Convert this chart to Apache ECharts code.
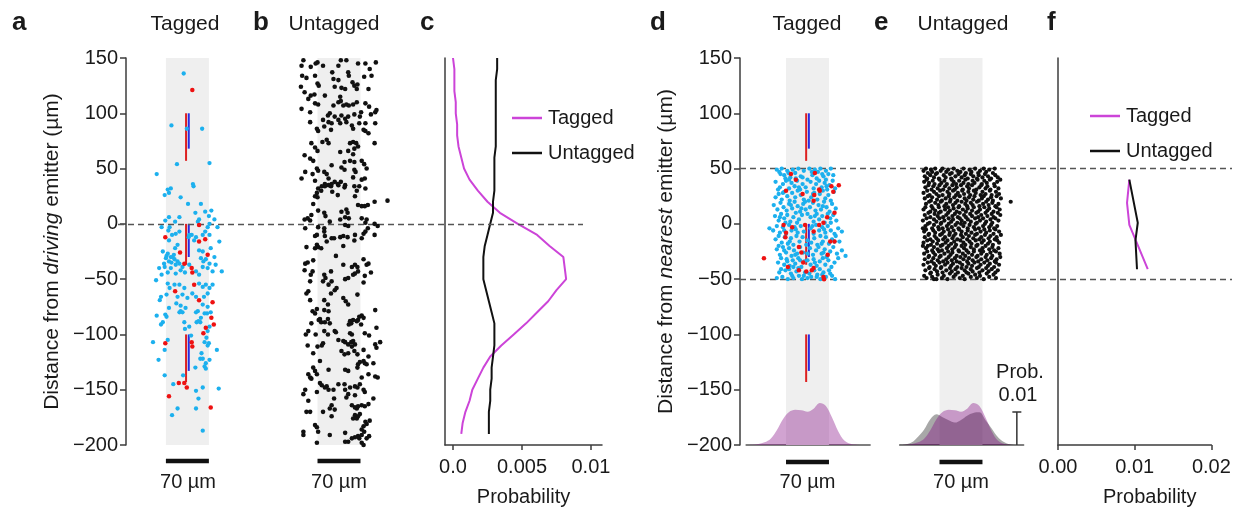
<!DOCTYPE html>
<html>
<head>
<meta charset="utf-8">
<script src="https://cdn.jsdelivr.net/npm/echarts@6/dist/echarts.min.js"></script>
<style>
  html, body { margin: 0; padding: 0; background: #fff; }
  #chart { width: 1240px; height: 515px; }
</style>
</head>
<body>
<div id="chart"></div>
<script>
// ---------- values ----------
const distTicks = [-200, -150, -100, -50, 0, 50, 100, 150];   // µm
const bandUm = 70;          // width of the shaded shank band (µm)
const scaleBarUm = 70;      // length of the horizontal scale bars (µm)
const probScale = 0.01;     // height of the probability scale bar in e
const referenceLines = [0];        // dashed line in a–c
const windowLines = [50, -50];     // dashed lines in d–f

// emitter segments (start, end distance in µm), red and blue
const redSegments = [[100, 57], [0, -37], [-100, -143]];
const blueSegments = [[100, 68], [0, -30], [-100, -133]];

// c: probability profiles along the shank
const profileDistances = [150,140,130,120,110,100,90,80,70,60,50,40,30,20,10,0,-10,-20,-30,-40,-50,-60,-70,-80,-90,-100,-110,-120,-130,-140,-150,-160,-170,-180,-190];
const taggedProfile = [0.0000,0.0001,0.0001,0.0001,0.0002,0.0002,0.0003,0.0003,0.0004,0.0006,0.0008,0.0012,0.0018,0.0025,0.0034,0.0047,0.0061,0.0070,0.0080,0.0081,0.0082,0.0075,0.0069,0.0061,0.0053,0.0044,0.0035,0.0027,0.0022,0.0018,0.0014,0.0012,0.0009,0.0007,0.0006];
const untaggedProfile = [0.0032,0.0032,0.0031,0.0031,0.0031,0.0031,0.0031,0.0031,0.0031,0.0030,0.0030,0.0030,0.0030,0.0029,0.0029,0.0027,0.0025,0.0023,0.0022,0.0022,0.0022,0.0024,0.0026,0.0028,0.0030,0.0030,0.0030,0.0029,0.0028,0.0028,0.0027,0.0027,0.0026,0.0026,0.0026];
const cTickValues = [0, 0.005, 0.01];
const cTickLabels = ['0.0', '0.005', '0.01'];

// f: probability profiles within ±50 µm of the nearest emitter
const fTaggedDist = [40, 19, -1, -41];
const fTaggedProb = [0.0093, 0.0090, 0.0093, 0.0117];
const fUntaggedDist = [40, 1, -15, -41];
const fUntaggedProb = [0.0093, 0.0104, 0.0101, 0.0103];

// d/e: lateral density across the shank
const densityX = [-100,-90,-80,-70,-60,-50,-40,-30,-20,-10,0,10,20,30,40,50,60,70,80,90,100];
const taggedDensity = [0,0.0001,0.0003,0.0008,0.0019,0.0045,0.0078,0.0100,0.0107,0.0105,0.0101,0.0110,0.0127,0.0118,0.0083,0.0042,0.0014,0.0004,0.0001,0,0];
const untaggedDensity = [0,0.0002,0.0008,0.0025,0.0047,0.0078,0.0093,0.0084,0.0075,0.0068,0.0076,0.0089,0.0097,0.0099,0.0075,0.0050,0.0024,0.0009,0.0002,0,0];

// a: tagged cells (lateral µm, distance from driving emitter µm)
const aTaggedBlue = [[-6,136],[-26,89],[-1,86],[24,86],[-17,54],[36,55],[-50,45],[9,36],[10,34],
[-32,31],[-30,28],[-27,32],[-37,26],[-11,24],[1,18],[22,18],[13,10],[29,11],[39,12],[35,7],[-13,6],[-30,6],[-20,2],[-36,3],[19,4],[17,2],[44,4],[-42,-3],[-29,-3],[-31,-6],[36,0],[33,-3],[49,-3],[3,-10],[7,-10],[2,-12],[-13,-7],[-19,-9],[-25,-10],[-30,-15],[25,-10],[36,-10],[29,-7],[52,-16],[14,-12],[11,-15],[-20,-22],[-16,-19],[-40,-25],[19,-24],[25,-25],[38,-22],[-32,-27],[-27,-30],[-21,-32],[-16,-34],[-35,-31],[-30,-34],[-19,-37],[-13,-36],[-8,-39],[3,-37],[22,-31],[26,-34],[30,-32],[36,-36],[25,-39],[33,-40],[44,-30],[46,-37],[41,-43],[-46,-40],[-42,-46],[-38,-36],[-51,-51],[-32,-44],[-27,-40],[-19,-45],[-11,-42],[-4,-44],[14,-43],[19,-46],[-21,-55],[-13,-55],[-5,-58],[-32,-54],[-29,-58],[19,-54],[25,-57],[30,-55],[36,-58],[41,-55],[-43,-66],[-34,-64],[-16,-66],[-8,-64],[0,-67],[8,-63],[14,-66],[27,-66],[33,-63],[25,-73],[33,-75],[-18,-72],[-11,-74],[-30,-76],[-3,-76],[56,-43],[-45,-69],[-24,-30],[-26,-35],[-22,-28],[-34,-29],[-37,-39],
[-50,-83],[-36,-82],[-34,-84],[-43,-91],[-40,-89],[-13,-80],[-11,-79],[-8,-80],[-5,-89],[3,-93],[-4,-95],[14,-80],[17,-79],[22,-85],[18,-88],[15,-89],[21,-89],[28,-81],[32,-81],[38,-80],[33,-97],[36,-93],[31,-103],[28,-107],[35,-108],[33,-110],[48,-114],[6,-101],[-56,-107],[-32,-105],[-37,-114],[-47,-123],[23,-117],[25,-122],[21,-122],[36,-123],[30,-126],[28,-129],[30,-131],[13,-130],[-37,-137],[-7,-137],[-23,-145],[14,-151],[25,-148],[51,-149],[18,-158],[-16,-167],[14,-167],[-25,-173],[25,-187]];
const aTaggedRed = [[8,121],[19,-1],[-36,-12],[19,-16],[29,-14],[33,-28],[-12,-26],[-5,-36],[7,-40],[8,-44],[11,-55],[-20,-61],[19,-69],[41,-71],[39,-85],[43,-91],[30,-94],[26,-99],[7,-107],[8,-111],[-36,-108],[-14,-144],[-5,-144],[-1,-148],[-30,-156],[38,-166]];

// b: untagged cells
const bUntagged = [[-58,148],[-61,143],[-46,142],[-38,145],[-35,146],[-26,143],[-1,143],[3,148],[12,148],[31,145],[43,145],[50,140],[60,146],
[-60,134],[-53,132],[-39,134],[-11,137],[-9,131],[15,137],[16,134],[22,128],[41,133],[53,134],[-62,124],[-56,119],[-35,127],[-33,125],[-1,130],[-7,124],[4,123],[10,122],[25,125],[30,126],[29,122],[48,122],
[-50,113],[-46,116],[-40,117],[-23,116],[2,115],[3,111],[-39,109],[-34,108],[-9,107],[-1,110],[7,107],[12,108],[16,107],[23,108],[29,110],[43,109],[-61,104],[49,106],
[-47,101],[-18,98],[-15,100],[-7,97],[4,98],[15,97],[25,99],[36,101],[52,99],[59,101],[61,103],[-26,94],[-17,92],[-12,91],[-1,94],[2,91],[10,95],[12,92],[21,89],[34,97],[33,91],[43,91],[59,91],[-47,92],[-36,86],[-34,84],[-24,88],[-13,85],[23,86],[40,85],[43,84],[48,82],
[-45,73],[-39,69],[-35,66],[-27,74],[-20,76],[-17,73],[18,73],[23,74],[28,73],[25,68],[31,70],[15,66],[2,65],[23,63],[58,73],[-56,62],[-47,59],[-42,57],
[9,56],[18,57],[25,56],[37,57],[41,54],[-12,53],[-36,50],[-34,48],[-24,47],[-20,45],[4,51],[9,49],[25,49],[27,47],[45,50],[-55,47],[-61,41],[-43,45],
[-39,39],[-17,41],[-12,36],[-7,38],[-2,36],[3,38],[10,35],[23,42],[37,40],[42,41],[-23,36],[-1,35],
[-34,32],[-28,34],[-23,34],[-17,35],[-13,34],[-11,29],[-29,30],[-36,28],[-39,25],[-35,24],[-2,26],[9,33],[25,34],[29,30],[33,34],[43,32],[26,25],[-42,18],[58,20],[79,21],[31,17],[37,16],[42,16],[47,17],
[-34,12],[-24,10],[-22,7],[4,11],[12,13],[14,10],[10,6],[16,5],[-45,8],[-56,4],[-51,5],[-47,3],[-15,2],[2,4],[10,-1],[15,-2],[37,5],[43,1],[45,4],[58,0],[63,-2],[-55,-4],
[-34,-3],[-24,-4],[-24,-7],[-36,-10],[-39,-11],[-23,-11],[-12,-13],[-8,-13],[2,-12],[7,-11],[14,-12],[26,-10],[25,-15],[37,-13],[40,-9],[43,-7],[47,-4],[58,-10],[-20,-16],[-36,-19],[-39,-22],[-34,-21],[-29,-22],[-53,-21],[7,-20],
[-5,-29],[40,-32],[-55,-36],[-51,-35],[-42,-33],[-56,-42],[-46,-46],[-43,-43],[7,-37],[21,-39],[26,-37],[30,-39],[45,-37],[48,-36],[26,-45],[31,-43],[23,-46],[15,-49],[10,-50],[42,-47],[52,-44],[-13,-43],[-24,-46],[-22,-49],[-47,-52],[-17,-55],[-26,-52],[-12,-52],[40,-53],
[-50,-61],[-53,-63],[-13,-63],[-7,-60],[-4,-58],[30,-64],[-47,-69],[-24,-69],[-18,-73],[7,-67],[11,-70],[15,-73],[-36,-77],[-43,-79],[-39,-81],[-24,-78],[-17,-79],[59,-78],[37,-83],[40,-85],[33,-84],[-31,-86],
[-45,-90],[-33,-87],[-29,-89],[-23,-89],[-15,-90],[-18,-86],[16,-91],[20,-90],[18,-88],[23,-87],[29,-88],[31,-87],[36,-91],[-7,-97],[-5,-98],[-24,-97],[-18,-100],[-50,-97],[-54,-100],[-38,-100],[42,-99],[49,-101],[61,-94],[18,-99],[21,-100],
[-51,-110],[-42,-117],[-35,-111],[-26,-108],[-28,-110],[-1,-105],[7,-106],[10,-107],[15,-109],[20,-107],[23,-106],[26,-109],[21,-111],[4,-115],[9,-118],[15,-117],[25,-115],[30,-118],[59,-109],[61,-112],[67,-107],[40,-114],[48,-120],
[-31,-124],[31,-127],[34,-125],[40,-124],[42,-126],[45,-127],[56,-126],[-17,-132],[10,-132],[15,-133],[30,-130],[-42,-130],[-39,-133],[-36,-136],[-50,-136],[-47,-139],[-45,-140],[48,-136],[59,-138],[63,-139],[37,-139],
[-31,-144],[-28,-146],[-23,-148],[-20,-147],[-17,-150],[-1,-145],[9,-145],[18,-148],[26,-147],[30,-148],[34,-145],[40,-150],[42,-152],[-9,-150],[-58,-154],[-55,-150],[-36,-152],[10,-150],[12,-157],[15,-154],[26,-155],[-8,-158],[56,-158],[-50,-160],
[-53,-170],[-47,-170],[-15,-167],[-12,-164],[-7,-168],[21,-164],[29,-167],[26,-166],[37,-164],[31,-165],[42,-165],[48,-163],[-26,-170],[-12,-174],[26,-173],[23,-176],[29,-176],[34,-172],[31,-174],[43,-179],[50,-178],[45,-181],
[-39,-182],[-36,-184],[-34,-188],[-15,-191],[10,-189],[40,-183],[37,-186],[41,-188],[-58,-188],[-58,-191],[26,-193],[31,-192],[37,-191],[45,-194],[49,-192],[15,-197],[10,-197],[-36,-198],[37,-198],[40,-200],[33,-194],[21,-194]];

// d: tagged cells (distance from nearest emitter)
const dTaggedBlue = [[-50,49],[-46,47],[-42,50],[-38,44],[-33,48],[-28,42],[-24,49],[-20,46],[-15,50],[-11,43],[-6,48],[3,50],[8,44],[12,49],[17,47],[21,50],[26,43],[30,48],[34,45],[38,50],[-36,41],[15,41],[42,44],[-19,41],
[-52,38],[-45,33],[-40,36],[-35,39],[-30,32],[-26,37],[-21,34],[-17,39],[-12,31],[-8,36],[-3,33],[5,38],[10,32],[14,36],[19,39],[23,33],[28,37],[32,31],[36,35],[41,39],[45,32],[-48,31],[0,40],
[-47,27],[-42,22],[-38,29],[-33,25],[-29,21],[-25,28],[-20,24],[-16,30],[-11,26],[-6,22],[-1,29],[6,24],[11,28],[16,22],[20,27],[25,30],[29,23],[34,26],[38,21],[43,29],[-52,24],[2,21],
[-55,17],[-49,13],[-44,19],[-39,15],[-34,12],[-30,18],[-25,14],[-21,20],[-16,16],[-12,11],[-7,18],[4,15],[9,19],[13,12],[18,17],[22,13],[27,20],[31,15],[36,11],[40,18],[46,14],[-3,13],
[-53,7],[-47,3],[-43,9],[-38,5],[-33,8],[-28,2],[-23,6],[-19,10],[-14,4],[-9,8],[5,6],[10,2],[15,9],[19,4],[24,7],[28,1],[33,9],[37,5],[42,8],[47,3],[0,9],[-36,1],
[-62,-4],[-56,-6],[-50,-2],[-45,-8],[-40,-3],[-35,-9],[-30,-1],[-26,-6],[-21,-3],[-16,-8],[-11,-2],[-6,-7],[5,-4],[10,-9],[14,-1],[19,-6],[24,-3],[29,-8],[33,-2],[38,-6],[44,-9],[50,-4],[56,-7],
[-52,-14],[-47,-11],[-42,-17],[-37,-12],[-32,-18],[-27,-13],[-23,-19],[-18,-11],[-13,-16],[-8,-12],[6,-17],[11,-13],[16,-19],[21,-11],[25,-16],[30,-12],[35,-18],[40,-14],[46,-11],[52,-16],[0,-15],
[-50,-23],[-45,-28],[-40,-21],[-35,-26],[-30,-22],[-26,-29],[-22,-24],[-17,-27],[-12,-21],[-7,-26],[4,-22],[9,-28],[14,-24],[18,-21],[23,-27],[28,-23],[32,-29],[37,-25],[42,-21],[48,-27],[62,-29],[56,-24],
[-48,-35],[-43,-31],[-38,-37],[-34,-32],[-29,-38],[-24,-33],[-20,-36],[-15,-31],[-10,-39],[-5,-34],[5,-37],[10,-32],[15,-38],[20,-34],[25,-31],[29,-37],[34,-33],[39,-39],[44,-35],[50,-31],
[-46,-44],[-41,-48],[-36,-42],[-32,-50],[-27,-45],[-23,-49],[-18,-43],[-14,-47],[-9,-50],[-4,-44],[6,-48],[11,-42],[16,-46],[21,-50],[26,-44],[30,-48],[35,-42],[40,-47],[45,-50],[-30,-41],[0,-49],[20,-41],[-50,-49],
[-44,45],[-31,46],[-8,42],[7,47],[24,45],[-40,28],[-14,33],[9,27],[31,34],[-27,17],[-4,20],[25,16],[-45,6],[-17,1],[12,7],[38,1],[-38,-6],[-19,-5],[8,-2],[27,-5],[-29,-16],[-2,-19],[23,-18],[44,-16],[-38,-24],[-20,-28],[0,-27],[26,-26],[-33,-34],[-12,-33],[12,-35],[31,-30],[-43,-41],[-25,-47],[3,-45],[24,-46],[-15,-40],[15,-48],[37,-45],[-6,-47],[-23,-39],[-47,-20],[-10,14],[-30,40],[30,40],[0,-33]];
const dTaggedRed = [[-27,45],[-19,40],[-35,30],[-8,27],[12,46],[11,26],[10,21],[19,31],[20,30],[39,34],[42,29],[51,35],[44,10],[32,6],[-39,-1],[-25,-3],[-35,-8],[-36,-12],[-4,-1],[10,-7],[19,-1],[26,1],[37,-16],[44,-16],[-14,-21],[-10,-26],[33,-28],[-32,-39],[-7,-35],[-2,-43],[-14,-42],[7,-42],[10,-40],[26,-48],[27,-50],[-71,-31]];

// e: untagged cells (distance from nearest emitter)
const eUntagged = [[-61,48],[-57,50],[-54,46],[-49,49],[-47,47],[-42,50],[-39,46],[-33,48],[-30,50],[-24,47],[-21,49],[-15,46],[-12,50],[-6,48],[-1,47],[4,50],[8,46],[14,49],[17,47],[23,50],[28,46],[31,48],[37,50],[41,47],[46,49],[52,46],[55,50],
[-59,43],[-55,41],[-50,44],[-44,42],[-41,45],[-36,41],[-28,44],[-25,42],[-18,45],[-16,41],[-9,43],[-4,45],[1,42],[6,44],[11,41],[16,45],[20,43],[26,41],[29,44],[35,42],[39,45],[44,43],[49,41],[56,44],[60,42],
[-60,38],[-56,40],[-52,37],[-46,39],[-43,36],[-35,40],[-32,37],[-27,39],[-23,36],[-15,40],[-12,38],[-8,36],[-3,39],[4,37],[7,40],[12,36],[19,39],[22,37],[27,40],[34,36],[38,39],[42,37],[47,40],[54,36],[59,38],[64,40],
[-58,33],[-53,35],[-48,31],[-45,34],[-38,32],[-35,35],[-29,31],[-26,34],[-19,32],[-14,35],[-10,31],[-7,33],[0,35],[3,31],[10,34],[13,32],[18,35],[25,31],[30,33],[33,35],[40,32],[43,34],[48,31],[55,34],[61,32],
[-61,28],[-55,30],[-51,26],[-44,29],[-40,27],[-34,30],[-30,26],[-22,29],[-19,27],[-13,30],[-8,26],[-5,28],[2,30],[5,27],[12,29],[15,26],[21,30],[24,28],[32,26],[35,29],[40,27],[47,30],[50,26],[57,29],[62,27],
[-59,23],[-54,25],[-49,21],[-47,24],[-39,22],[-36,25],[-31,21],[-25,23],[-20,25],[-17,22],[-11,24],[-6,21],[-2,25],[6,23],[9,21],[13,24],[20,22],[22,25],[29,21],[34,23],[37,25],[44,22],[49,24],[52,21],[58,25],[65,23],
[-57,18],[-52,20],[-48,16],[-42,19],[-37,17],[-33,20],[-27,16],[-24,18],[-18,20],[-13,17],[-9,19],[-3,16],[1,20],[7,18],[10,16],[16,19],[19,17],[26,20],[30,16],[36,18],[41,20],[45,17],[51,19],[56,16],[61,18],[81,20],
[-61,13],[-58,15],[-50,11],[-46,14],[-42,12],[-36,15],[-33,11],[-26,13],[-21,15],[-18,12],[-12,14],[-7,11],[-4,15],[3,13],[8,11],[11,14],[18,12],[21,15],[28,11],[31,13],[38,15],[43,12],[46,14],[53,11],[58,15],[63,13],
[-59,8],[-53,10],[-50,6],[-43,9],[-38,7],[-36,10],[-29,6],[-24,8],[-21,10],[-14,7],[-10,9],[-5,6],[-2,10],[5,8],[8,6],[15,9],[18,7],[25,10],[28,6],[33,8],[40,10],[43,7],[50,9],[53,6],[60,10],[64,8],
[-62,3],[-56,5],[-51,1],[-44,4],[-40,2],[-35,5],[-32,1],[-27,3],[-20,5],[-16,2],[-13,4],[-6,1],[-2,5],[1,3],[6,1],[11,4],[16,2],[23,5],[26,1],[31,3],[36,5],[41,2],[48,4],[51,1],[56,5],[61,3],
[-58,-2],[-54,0],[-47,-4],[-44,-1],[-37,-3],[-33,0],[-30,-4],[-23,-2],[-20,0],[-15,-3],[-9,-1],[-4,-4],[0,0],[4,-2],[11,-4],[14,-1],[21,-3],[24,0],[29,-4],[36,-2],[39,0],[46,-3],[49,-1],[54,-4],[59,-2],[-62,-4],
[-60,-7],[-57,-5],[-52,-9],[-45,-6],[-42,-8],[-36,-5],[-31,-9],[-28,-7],[-21,-5],[-18,-8],[-12,-6],[-9,-9],[-3,-5],[1,-7],[8,-9],[11,-6],[17,-8],[23,-5],[26,-9],[32,-7],[38,-5],[41,-8],[47,-6],[53,-9],[56,-5],[62,-7],
[-59,-12],[-53,-10],[-50,-14],[-43,-11],[-40,-13],[-34,-10],[-29,-14],[-26,-12],[-19,-10],[-14,-13],[-12,-11],[-6,-14],[0,-10],[3,-12],[10,-14],[13,-11],[20,-13],[23,-10],[30,-14],[33,-12],[39,-10],[45,-13],[48,-11],[55,-14],[58,-12],[65,-10],
[-61,-17],[-55,-15],[-49,-19],[-46,-16],[-39,-18],[-37,-15],[-30,-19],[-25,-17],[-22,-15],[-16,-18],[-11,-16],[-8,-19],[-1,-15],[4,-17],[7,-19],[14,-16],[17,-18],[24,-15],[27,-19],[34,-17],[37,-15],[44,-18],[47,-16],[52,-19],[59,-15],[62,-17],
[-57,-22],[-54,-20],[-47,-24],[-44,-21],[-38,-23],[-33,-20],[-31,-24],[-23,-22],[-20,-20],[-14,-23],[-10,-21],[-4,-24],[1,-20],[5,-22],[9,-24],[16,-21],[21,-23],[25,-20],[31,-24],[35,-22],[40,-20],[46,-23],[51,-21],[54,-24],[61,-22],[-62,-20],
[-60,-27],[-55,-25],[-52,-29],[-45,-26],[-42,-28],[-36,-25],[-33,-29],[-27,-27],[-21,-25],[-17,-28],[-14,-26],[-7,-29],[-3,-25],[3,-27],[7,-29],[12,-26],[18,-28],[21,-25],[27,-29],[33,-27],[36,-25],[42,-28],[48,-26],[51,-29],[57,-25],[63,-27],
[-59,-32],[-53,-30],[-48,-34],[-45,-31],[-38,-33],[-35,-30],[-29,-34],[-24,-32],[-20,-30],[-15,-33],[-10,-31],[-7,-34],[-1,-30],[4,-32],[10,-34],[13,-31],[19,-33],[25,-30],[28,-34],[33,-32],[40,-30],[43,-33],[49,-31],[55,-34],[58,-32],[64,-30],
[-61,-37],[-54,-35],[-51,-39],[-44,-36],[-41,-38],[-35,-35],[-32,-39],[-26,-37],[-22,-35],[-16,-38],[-13,-36],[-6,-39],[-2,-35],[2,-37],[9,-39],[12,-36],[18,-38],[22,-35],[29,-39],[32,-37],[38,-35],[44,-38],[47,-36],[54,-39],[57,-35],[62,-37],
[-58,-42],[-52,-40],[-49,-44],[-43,-41],[-39,-43],[-33,-40],[-30,-44],[-24,-42],[-18,-40],[-15,-43],[-9,-41],[-5,-44],[1,-40],[6,-42],[9,-44],[16,-41],[19,-43],[26,-40],[30,-44],[35,-42],[41,-40],[45,-43],[50,-41],[56,-44],[60,-42],
[-60,-47],[-56,-49],[-50,-45],[-47,-48],[-40,-50],[-38,-46],[-31,-49],[-28,-47],[-22,-50],[-18,-45],[-12,-48],[-9,-46],[-2,-49],[3,-47],[6,-50],[12,-45],[16,-48],[23,-46],[26,-49],[31,-47],[37,-50],[42,-45],[46,-48],[53,-46],[57,-49],[-44,-50]];

// ---------- styling ----------
const FONT = '"Liberation Sans", Arial, Helvetica, sans-serif';
const TXT = '#1a1a1a';
const AXC = '#3c3c3c';
const CYAN = '#1cb0ee';
const RED = '#ee1111';
const DOT = '#111111';
const MAGENTA = '#cc44d8';
const BLACK_LINE = '#111111';
const BAND = '#efefef';

const minus = v => String(v).replace('-', '\u2212');
const axisLineStyle = { show: true, onZero: false, lineStyle: { color: AXC, width: 1.5 } };
const off = { show: false };

const grids = [], xAxes = [], yAxes = [];
function addGrid(box, xa, ya) {
  const i = grids.length;
  grids.push(Object.assign({ containLabel: false }, box));
  xAxes.push(Object.assign({ gridIndex: i, type: 'value', splitLine: off }, xa));
  yAxes.push(Object.assign({ gridIndex: i, type: 'value', splitLine: off }, ya));
  return i;
}
function distAxis(italicWord) {
  return {
    min: -200, max: 150, interval: 50,
    axisLine: axisLineStyle,
    axisTick: { show: true, length: 6, lineStyle: { color: AXC, width: 1.5 } },
    axisLabel: { show: true, margin: 8, fontSize: 20, color: TXT, fontFamily: FONT, formatter: minus },
    name: '{n|Distance from }{i|' + italicWord + '}{n| emitter (µm)}',
    nameLocation: 'middle', nameRotate: 90, nameGap: 63,
    nameTextStyle: {
      rich: {
        n: { fontSize: 21, color: TXT, fontFamily: FONT },
        i: { fontSize: 21, color: TXT, fontFamily: FONT, fontStyle: 'italic' }
      }
    }
  };
}
const plainDist = { min: -200, max: 150, show: false };
const lineOnlyDist = { min: -200, max: 150, axisLine: axisLineStyle, axisTick: off, axisLabel: off };
const hiddenX = (min, max) => ({ min, max, show: false });

const TOP = 58, H = 387;
const gA = addGrid({ left: 126, top: TOP, width: 122.8, height: H }, hiddenX(-100, 100), distAxis('driving'));
const gB = addGrid({ left: 277.6, top: TOP, width: 122.8, height: H }, hiddenX(-100, 100), plainDist);
const gC = addGrid({ left: 445, top: TOP, width: 157, height: H }, {
  min: -0.00058, max: 0.0108,
  axisLine: axisLineStyle,
  axisTick: { show: true, length: 5, customValues: cTickValues, lineStyle: { color: AXC, width: 1.5 } },
  axisLabel: {
    show: true, customValues: cTickValues, margin: 12, fontSize: 20, color: TXT, fontFamily: FONT,
    formatter: v => {
      let k = 0;
      cTickValues.forEach((t, i) => { if (Math.abs(t - v) < Math.abs(cTickValues[k] - v)) k = i; });
      return cTickLabels[k];
    }
  },
  name: 'Probability', nameLocation: 'middle', nameGap: 42,
  nameTextStyle: { fontSize: 20, color: TXT, fontFamily: FONT }
}, lineOnlyDist);
const gD = addGrid({ left: 740, top: TOP, width: 135, height: H }, hiddenX(-110, 110), distAxis('nearest'));
const baseX = { min: -100, max: 102, axisLine: { show: true, onZero: false, lineStyle: { color: '#555', width: 1.5 } }, axisTick: off, axisLabel: off };
const densY = { min: 0, max: 0.02, show: false };
const gD2 = addGrid({ left: 746.1, top: 379, width: 124, height: 66 }, baseX, densY);
const gE = addGrid({ left: 899.6, top: TOP, width: 124, height: H }, hiddenX(-100, 102), plainDist);
const gE2 = addGrid({ left: 899.6, top: 379, width: 124, height: 66 }, baseX, densY);
const gF = addGrid({ left: 1058, top: TOP, width: 153.4, height: H }, {
  min: 0, max: 0.02, interval: 0.01,
  axisLine: axisLineStyle,
  axisTick: { show: true, length: 5, lineStyle: { color: AXC, width: 1.5 } },
  axisLabel: { show: true, margin: 12, fontSize: 20, color: TXT, fontFamily: FONT, formatter: v => v.toFixed(2) },
  name: 'Probability', nameLocation: 'middle', nameGap: 42,
  nameTextStyle: { fontSize: 20, color: TXT, fontFamily: FONT, padding: [0, 0, 0, 30] }
}, lineOnlyDist);
const gO1 = addGrid({ left: 118, top: TOP, width: 465, height: H }, hiddenX(0, 1), plainDist);
const gO2 = addGrid({ left: 740, top: TOP, width: 492, height: H }, hiddenX(0, 1), plainDist);
const sbY = { min: 0, max: 1, show: false };
const sA = addGrid({ left: 126, top: 459, width: 122.8, height: 4 }, hiddenX(-100, 100), sbY);
const sB = addGrid({ left: 277.6, top: 459, width: 122.8, height: 4 }, hiddenX(-100, 100), sbY);
const sD = addGrid({ left: 740, top: 460, width: 135, height: 4 }, hiddenX(-110, 110), sbY);
const sE = addGrid({ left: 899.6, top: 460, width: 124, height: 4 }, hiddenX(-100, 102), sbY);

// ---------- series builders ----------
const on = gi => ({ xAxisIndex: gi, yAxisIndex: gi, silent: true });
function band(gi) {
  return Object.assign(on(gi), {
    type: 'line', data: [], z: 1, symbol: 'none',
    markArea: {
      silent: true, label: { show: false }, itemStyle: { color: BAND },
      data: [[{ xAxis: -bandUm / 2, yAxis: -200 }, { xAxis: bandUm / 2, yAxis: 150 }]]
    }
  });
}
function dashed(gi, values) {
  return Object.assign(on(gi), {
    type: 'line', data: [], z: 3, symbol: 'none',
    markLine: { silent: true, symbol: 'none', label: { show: false }, lineStyle: { type: [6, 4], color: '#555', width: 1.4 }, data: values.map(v => ({ yAxis: v })) }
  });
}
function dots(name, gi, data, color, size) {
  return Object.assign(on(gi), { type: 'scatter', name, data, symbolSize: size, itemStyle: { color, opacity: 1 }, z: 5 });
}
function segments(gi, x, segs, color) {
  return segs.map(s => Object.assign(on(gi), { type: 'line', data: [[x, s[0]], [x, s[1]]], symbol: 'none', lineStyle: { color, width: 2 }, z: 4 }));
}
function density(name, gi, values, color) {
  return Object.assign(on(gi), {
    type: 'line', name, data: densityX.map((x, i) => [x, values[i]]), symbol: 'none', smooth: 0.35,
    lineStyle: { width: 0 }, areaStyle: { color, opacity: 1 }, z: 2
  });
}
function profile(name, gi, dists, probs, color) {
  return Object.assign(on(gi), {
    type: 'line', name, data: dists.map((d, i) => [probs[i], d]), symbol: 'none',
    itemStyle: { color }, lineStyle: { color, width: 2 }, z: 4
  });
}
function scaleBar(gi) {
  return Object.assign(on(gi), {
    type: 'line', data: [[-scaleBarUm / 2, 0.5], [scaleBarUm / 2, 0.5]], symbol: 'none',
    lineStyle: { color: '#111', width: 4.5, cap: 'butt' }
  });
}

const probBarX = 91;
const series = [
  profile('Tagged', gC, profileDistances, taggedProfile, MAGENTA),
  profile('Untagged', gC, profileDistances, untaggedProfile, BLACK_LINE),
  profile('Tagged', gF, fTaggedDist, fTaggedProb, MAGENTA),
  profile('Untagged', gF, fUntaggedDist, fUntaggedProb, BLACK_LINE),
  band(gA), band(gB), band(gD), band(gE),
  dashed(gO1, referenceLines), dashed(gO2, windowLines),
  ...segments(gA, -2.2, redSegments, '#dd2020'), ...segments(gA, 2.2, blueSegments, '#2a2ae0'),
  ...segments(gD, -2.2, redSegments, '#dd2020'), ...segments(gD, 2.2, blueSegments, '#2a2ae0'),
  dots('tagged cells a', gA, aTaggedBlue, CYAN, 4.3),
  dots('tagged cells a (red)', gA, aTaggedRed, RED, 4.5),
  dots('untagged cells b', gB, bUntagged, DOT, 4.6),
  dots('tagged cells d', gD, dTaggedBlue, CYAN, 4.3),
  dots('tagged cells d (red)', gD, dTaggedRed, RED, 4.5),
  dots('untagged cells e', gE, eUntagged, DOT, 4.2),
  density('tagged density d', gD2, taggedDensity, 'rgba(128,0,128,0.36)'),
  density('untagged density e', gE2, untaggedDensity, 'rgba(0,0,0,0.34)'),
  density('tagged density e', gE2, taggedDensity, 'rgba(128,0,128,0.36)'),
  Object.assign(on(gE2), {
    type: 'line', data: [[probBarX, 0], [probBarX, probScale]],
    symbol: (v, p) => (p.dataIndex === 1 ? 'rect' : 'none'), symbolSize: [9, 1.5], showSymbol: true,
    itemStyle: { color: '#333' }, lineStyle: { color: '#333', width: 1.5 }, z: 4
  }),
  scaleBar(sA), scaleBar(sB), scaleBar(sD), scaleBar(sE)
];

const legendData = [
  { name: 'Tagged', icon: 'rect', itemStyle: { color: MAGENTA } },
  { name: 'Untagged', icon: 'rect', itemStyle: { color: BLACK_LINE } }
];
const legendBase = {
  orient: 'vertical', selectedMode: false, itemWidth: 30, itemHeight: 2.5, itemGap: 15,
  data: legendData,
  textStyle: { fontSize: 20, color: TXT, fontFamily: FONT, padding: [0, 0, 0, 1], lineHeight: 20 }
};

function txt(text, x, y, opts) {
  return {
    type: 'text', x, y, silent: true,
    style: Object.assign({
      text, fill: TXT, fontSize: 20, fontFamily: FONT,
      align: 'center', textAlign: 'center', verticalAlign: 'middle', textVerticalAlign: 'middle'
    }, opts || {})
  };
}
const letter = (t, x) => txt(t, x, 23, { fontSize: 26, fontWeight: 'bold', align: 'left', textAlign: 'left' });
const barLabel = scaleBarUm + ' µm';

const option = {
  animation: false,
  backgroundColor: '#ffffff',
  grid: grids, xAxis: xAxes, yAxis: yAxes,
  legend: [
    Object.assign({ left: 507, top: 103 }, legendBase),
    Object.assign({ left: 1085, top: 101 }, legendBase)
  ],
  series,
  graphic: [
    letter('a', 12), letter('b', 253), letter('c', 420), letter('d', 650), letter('e', 874), letter('f', 1047),
    txt('Tagged', 185, 24, { fontSize: 21 }), txt('Untagged', 334, 24, { fontSize: 21 }),
    txt('Tagged', 807, 24, { fontSize: 21 }), txt('Untagged', 963, 24, { fontSize: 21 }),
    txt(barLabel, 188, 482), txt(barLabel, 339, 482), txt(barLabel, 807.5, 482), txt(barLabel, 961, 482),
    txt('Prob.', 1020, 372), txt(String(probScale), 1018, 395)
  ]
};

const chart = echarts.init(document.getElementById('chart'), null, { renderer: 'canvas' });
chart.setOption(option);
</script>
</body>
</html>
